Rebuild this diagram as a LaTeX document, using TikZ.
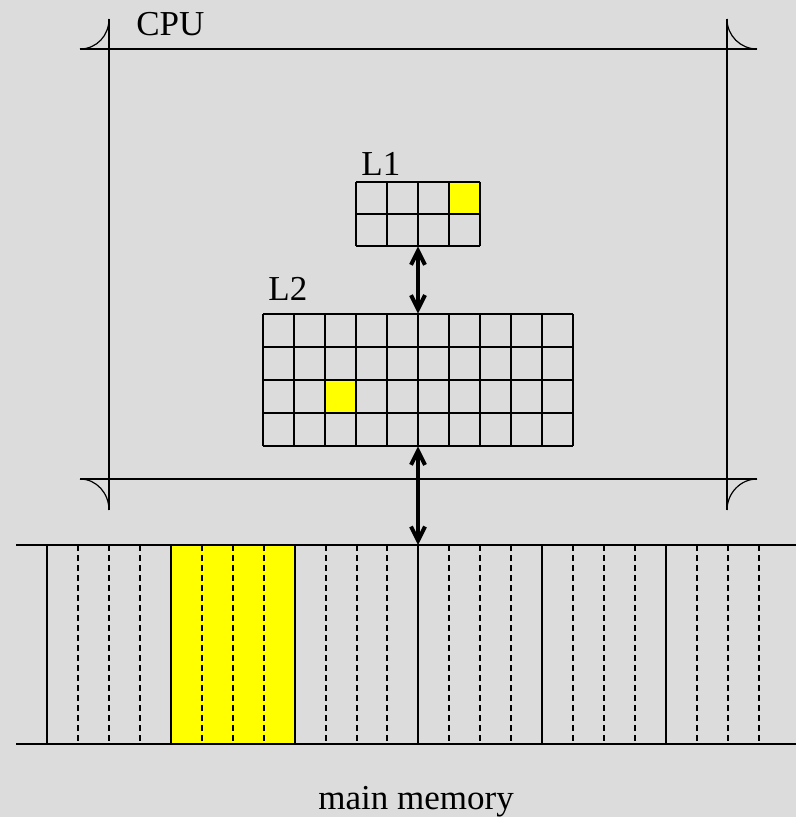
\documentclass[tikz,border=0pt]{standalone}
\usepackage{fontspec}
\setmainfont{Liberation Serif}
\usetikzlibrary{arrows.meta}

\definecolor{paper}{RGB}{220,220,220}
\definecolor{hit}{RGB}{255,255,0}

\tikzset{
  frame/.style={line width=0.6pt},
  cell/.style={line width=1pt},
  slot/.style={line width=1pt, dash pattern=on 3pt off 2pt},
  bus/.style={line width=2pt, {Straight Barb[length=7pt,width=7pt]}-{Straight Barb[length=7pt,width=7pt]}},
  lbl/.style={font=\fontsize{17.5}{21}\selectfont, inner sep=0pt},
}

\begin{document}
\begin{tikzpicture}[x=0.5pt, y=-0.5pt]
    \fill[paper] (0,0) rectangle (796,817);

    % CPU frame with rounded crop corners
    \draw[frame] (80,49) -- (757,49);
    \draw[frame] (80,479) -- (757,479);
    \draw[frame] (109,19) -- (109,510);
    \draw[frame] (727,19) -- (727,510);
    \draw[frame] (80,49) .. controls (96.6,49) and (109,35.6) .. (109,19);
    \draw[frame] (727,19) .. controls (727,35.6) and (740.4,49) .. (757,49);
    \draw[frame] (80,479) .. controls (96.6,479) and (109,493.4) .. (109,510);
    \draw[frame] (727,510) .. controls (727,493.4) and (740.4,479) .. (757,479);
    \node[lbl, anchor=base west] (cpu) at (136,36) {CPU};

    % L1 cache: 4 x 2
    \fill[hit] (449,182) rectangle (480,214);
    \foreach \i in {0,...,4}
        \draw[cell] (356+31*\i,182) -- (356+31*\i,246);
    \foreach \j in {0,...,2}
        \draw[cell] (356,182+32*\j) -- (480,182+32*\j);
    \node[minimum width=62pt, minimum height=32pt, inner sep=0pt] (l1) at (418,214) {};
    \node[lbl, anchor=base west] (l1name) at (361,176) {L1};

    % L2 cache: 10 x 4
    \fill[hit] (325,380) rectangle (356,413);
    \foreach \i in {0,...,10}
        \draw[cell] (263+31*\i,314) -- (263+31*\i,446);
    \foreach \j in {0,...,4}
        \draw[cell] (263,314+33*\j) -- (573,314+33*\j);
    \node[minimum width=155pt, minimum height=66pt, inner sep=0pt] (l2) at (418,380) {};
    \node[lbl, anchor=base west] (l2name) at (268,301) {L2};

    % main memory
    \fill[hit] (171,545) rectangle (294,744);
    \draw[cell] (16,545) -- (796,545);
    \draw[cell] (16,744) -- (796,744);
    \foreach \k in {0,...,5}
        \draw[cell] (47+123.8*\k,545) -- (47+123.8*\k,744);
    \foreach \k in {0,...,5}
        \foreach \s in {1,2,3}
            \draw[slot] (47+123.8*\k+30.95*\s,545) -- (47+123.8*\k+30.95*\s,744);
    \coordinate (memtop) at (418,545);
    \node[lbl, anchor=base west] (memname) at (318,809) {main memory};

    % transfers
    \draw[bus] (l1.south) -- (l2.north);
    \draw[bus] (l2.south) -- (memtop);
\end{tikzpicture}
\end{document}
